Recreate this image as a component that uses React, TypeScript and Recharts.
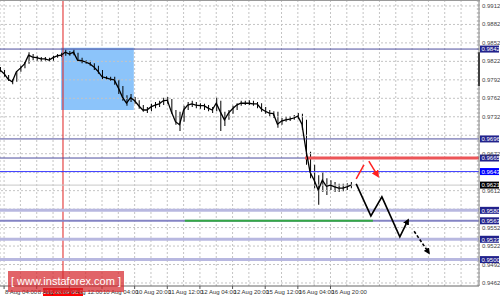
import {
  ComposedChart,
  Bar,
  Line,
  XAxis,
  YAxis,
  CartesianGrid,
  ReferenceLine,
  ReferenceArea,
} from "recharts";

// 2h bars
const closes = [
  0.9808, 0.9802, 0.9793, 0.9789, 0.9805, 0.9811, 0.9818, 0.9832, 0.9829, 0.9828,
  0.9826, 0.9826, 0.9824, 0.9828, 0.9831, 0.9832, 0.9837, 0.9834, 0.9837, 0.9824,
  0.9823, 0.9821, 0.9818, 0.9813, 0.9806, 0.9797, 0.9795, 0.9793, 0.9792, 0.9779,
  0.9764, 0.9754, 0.9763, 0.9758, 0.975, 0.9743, 0.9743, 0.9748, 0.9751, 0.9753,
  0.9758, 0.9759, 0.974, 0.9724, 0.9719, 0.9743, 0.9751, 0.9753, 0.9751, 0.975,
  0.975, 0.9746, 0.9743, 0.9754, 0.974, 0.9727, 0.9738, 0.9745, 0.9751, 0.9754,
  0.9754, 0.9754, 0.9753, 0.9753, 0.9745, 0.9741, 0.9738, 0.9737, 0.972, 0.9725,
  0.9727, 0.9728, 0.973, 0.9733, 0.972, 0.9678, 0.9642, 0.9629, 0.9613, 0.9629,
  0.9619, 0.9621, 0.9618, 0.9616, 0.9616, 0.9618, 0.9621,
];
const highs = [
  0.9813, 0.9808, 0.98, 0.9793, 0.9806, 0.9815, 0.9821, 0.9837, 0.9834, 0.9831,
  0.9829, 0.9829, 0.9828, 0.9831, 0.9834, 0.9836, 0.9841, 0.9839, 0.9841, 0.9836,
  0.9828, 0.9824, 0.9823, 0.9819, 0.9815, 0.9808, 0.9798, 0.9797, 0.9797, 0.9792,
  0.9782, 0.9767, 0.9769, 0.9764, 0.9759, 0.9751, 0.9748, 0.9753, 0.9756, 0.9758,
  0.9763, 0.9764, 0.9761, 0.9743, 0.974, 0.975, 0.9756, 0.9758, 0.9756, 0.9754,
  0.9753, 0.9751, 0.9748, 0.9763, 0.9758, 0.974, 0.9743, 0.975, 0.9754, 0.9758,
  0.9758, 0.9759, 0.9758, 0.9756, 0.9754, 0.9748, 0.9743, 0.9741, 0.974, 0.973,
  0.9732, 0.9733, 0.9735, 0.9738, 0.9737, 0.9727, 0.9675, 0.9654, 0.9637, 0.9642,
  0.9632, 0.9629, 0.9626, 0.9623, 0.9623, 0.9624, 0.9626,
];
const lows = [
  0.9805, 0.9797, 0.979, 0.9785, 0.9789, 0.9805, 0.9811, 0.9818, 0.9824, 0.9823,
  0.9821, 0.9823, 0.9821, 0.9823, 0.9828, 0.9829, 0.9831, 0.9831, 0.9832, 0.9821,
  0.9819, 0.9818, 0.9815, 0.9808, 0.9802, 0.9793, 0.9792, 0.979, 0.9784, 0.9769,
  0.9758, 0.975, 0.9756, 0.9753, 0.9745, 0.974, 0.9738, 0.9741, 0.9746, 0.9748,
  0.9751, 0.9753, 0.9737, 0.9719, 0.9709, 0.9724, 0.9743, 0.9748, 0.9746, 0.9745,
  0.9743, 0.9741, 0.9738, 0.9741, 0.9709, 0.9717, 0.9727, 0.9737, 0.9743, 0.975,
  0.9751, 0.9751, 0.975, 0.9746, 0.974, 0.9737, 0.9733, 0.973, 0.9714, 0.9719,
  0.9724, 0.9725, 0.9727, 0.9728, 0.9711, 0.9654, 0.9632, 0.9616, 0.9589, 0.961,
  0.9605, 0.9613, 0.961, 0.961, 0.9611, 0.9613, 0.9616,
];

const labelBars = [1, 9, 17, 25, 33, 41, 49, 57, 65, 73, 81];
const timeLabels = [
  "8 Aug 04:00", "8 Aug 20:00", "9 Aug 12:00", "10 Aug 04:00", "10 Aug 20:00",
  "11 Aug 12:00", "12 Aug 04:00", "12 Aug 20:00", "15 Aug 12:00", "16 Aug 04:00",
  "16 Aug 20:00",
];
const gridBars = Array.from({ length: 30 }, (_, k) => 1 + 4 * k);

const gridPrices = [
  0.9912, 0.9882, 0.9852, 0.9822, 0.9792, 0.9762, 0.9732, 0.9702, 0.9672,
  0.9642, 0.9612, 0.9582, 0.9552, 0.9522, 0.9492, 0.9462,
];
const coveredPrices = [0.9702, 0.9642, 0.9582];

const levels = [0.9842, 0.9696, 0.9665, 0.9643, 0.958, 0.9563, 0.9533, 0.95];
const levelColors = ["#4e4e9e", "#4e4e9e", "#4e4e9e", "#3b3bff", "#b8b8e0", "#8484c4", "#b8b8e0", "#b8b8e0"];
const levelWidths = [1, 1, 1, 1, 3, 2, 3, 3];
const levelTags = ["#22228c", "#22228c", "#22228c", "#0000ff", "#22228c", "#22228c", "#22228c", "#22228c"];
const lastPrice = 0.9621;
const crossBar = 15.44;
const crossTime = "2016.08.09 08:00";

// forecast drawings
const zigzagBars = [87.3, 90.9, 93.6, 98.0, 100.0];
const zigzagPrices = [0.9623, 0.9571, 0.9602, 0.9537, 0.9564];
const dashBars = [101.5, 105.1];
const dashPrices = [0.9546, 0.9511];
const redUpBars = [87.3, 89.2];
const redUpPrices = [0.9631, 0.9654];
const redDownBars = [90.4, 92.6];
const redDownPrices = [0.966, 0.9636];

const rows = closes.map((c, i) => ({ i, close: c, range: [lows[i], highs[i]] }));
const toPts = (xs: number[], ps: number[]) => xs.map((i, k) => ({ i, p: ps[k] }));

const FONT = "'Liberation Sans', Arial, sans-serif";

function LevelTag(props: any) {
  const { viewBox, text, bg } = props;
  if (!viewBox) return null;
  const x = viewBox.x + viewBox.width + 1;
  const y = viewBox.y;
  return (
    <g>
      <rect x={x} y={y - 3.5} width={19} height={7} fill={bg} />
      <text x={x + 1.5} y={y + 2.3} fontSize={6} fill="#fff" fontFamily={FONT}>
        {text}
      </text>
    </g>
  );
}

function TimeTag(props: any) {
  const { viewBox, text } = props;
  if (!viewBox) return null;
  const x = viewBox.x;
  const y = viewBox.y + viewBox.height;
  return (
    <g>
      <rect x={x - 20} y={y + 2} width={40} height={8} fill="#ff0000" />
      <text x={x} y={y + 8.2} fontSize={6} fill="#fff" textAnchor="middle" fontFamily={FONT}>
        {text}
      </text>
    </g>
  );
}

function TimeTick(props: any) {
  const { x, y, payload } = props;
  const k = labelBars.indexOf(payload.value);
  if (k < 0) return <g />;
  return (
    <g>
      <line x1={x} y1={y} x2={x} y2={y + 3} stroke="#555" />
      <text x={x + 1} y={y + 8} fontSize={6} fill="#333" fontFamily={FONT}>
        {timeLabels[k]}
      </text>
    </g>
  );
}

function PriceTick(props: any) {
  const { x, y, payload } = props;
  if (coveredPrices.includes(payload.value)) return <g />;
  return (
    <text x={x} y={y + 2} fontSize={6} fill="#444" fontFamily={FONT}>
      {payload.value.toFixed(4)}
    </text>
  );
}

export default function App() {
  return (
    <div style={{ position: "fixed", left: 0, top: 0, width: 500, height: 298, background: "#fff" }}>
      <ComposedChart
        width={500}
        height={298}
        data={rows}
        margin={{ top: 0, right: 0, bottom: 0, left: 0 }}
      >
        <defs>
          <marker id="arrBlack" viewBox="0 0 10 10" refX="7" refY="5" markerWidth="4" markerHeight="4" orient="auto">
            <path d="M0,0 L10,5 L0,10 z" fill="#000" />
          </marker>
          <marker id="arrRed" viewBox="0 0 10 10" refX="7" refY="5" markerWidth="5" markerHeight="5" orient="auto">
            <path d="M0,0 L10,5 L0,10 z" fill="#ff2020" />
          </marker>
        </defs>
        <CartesianGrid horizontal={false} stroke="#c4c4c4" strokeDasharray="2 2" />
        <XAxis
          dataKey="i"
          type="number"
          domain={[0, 117.4]}
          allowDataOverflow
          ticks={gridBars}
          interval={0}
          height={12}
          tickSize={0}
          tickMargin={0}
          tick={<TimeTick />}
          tickLine={false}
          axisLine={{ stroke: "#666" }}
        />
        <YAxis
          orientation="right"
          type="number"
          domain={[0.94571, 0.99217]}
          allowDataOverflow
          ticks={gridPrices}
          interval={0}
          width={21}
          tickSize={0}
          tickMargin={3}
          tick={<PriceTick />}
          tickLine={false}
          axisLine={{ stroke: "#808080" }}
        />
        {gridPrices.map((p) => (
          <ReferenceLine key={"g" + p} y={p} stroke="#c4c4c4" strokeDasharray="2 2" />
        ))}
        <ReferenceArea x1={14.95} x2={32.8} y1={0.9743} y2={0.9844} fill="#8cc4fa" fillOpacity={1} stroke="none" />
        <ReferenceLine x={crossBar} stroke="#e02020" label={<TimeTag text={crossTime} />} />
        <ReferenceLine y={lastPrice} stroke="#c8c8c8" label={<LevelTag text={lastPrice.toFixed(4)} bg="#000" />} />
        {levels.map((p, k) => (
          <ReferenceLine
            key={"l" + p}
            y={p}
            stroke={levelColors[k]}
            strokeWidth={levelWidths[k]}
            label={<LevelTag text={p.toFixed(4)} bg={levelTags[k]} />}
          />
        ))}
        <ReferenceLine
          segment={[{ x: 74.75, y: 0.9665 }, { x: 117.4, y: 0.9665 }]}
          stroke="#ec5558"
          strokeWidth={3}
        />
        <ReferenceLine
          segment={[{ x: 45.3, y: 0.9563 }, { x: 91.4, y: 0.9563 }]}
          stroke="#35a844"
          strokeWidth={2}
        />
        <ReferenceLine
          segment={[{ x: 117.4, y: 0.9837 }, { x: 117.4, y: 0.9782 }]}
          stroke="#000"
          strokeWidth={2}
          ifOverflow="visible"
        />
        <Bar dataKey="range" barSize={1} fill="#000" isAnimationActive={false} />
        <Line dataKey="close" type="linear" stroke="#000" strokeWidth={1.3} dot={false} activeDot={false} isAnimationActive={false} />
        <Line
          data={toPts(zigzagBars, zigzagPrices)}
          dataKey="p"
          type="linear"
          stroke="#000"
          strokeWidth={1.6}
          dot={false}
          activeDot={false}
          markerEnd="url(#arrBlack)"
          isAnimationActive={false}
        />
        <Line
          data={toPts(dashBars, dashPrices)}
          dataKey="p"
          type="linear"
          stroke="#000"
          strokeWidth={1.6}
          strokeDasharray="3 2"
          dot={false}
          activeDot={false}
          markerEnd="url(#arrBlack)"
          isAnimationActive={false}
        />
        <Line
          data={toPts(redUpBars, redUpPrices)}
          dataKey="p"
          type="linear"
          stroke="#ff2020"
          strokeWidth={1.5}
          dot={false}
          activeDot={false}
          isAnimationActive={false}
        />
        <Line
          data={toPts(redDownBars, redDownPrices)}
          dataKey="p"
          type="linear"
          stroke="#ff2020"
          strokeWidth={1.5}
          dot={false}
          activeDot={false}
          markerEnd="url(#arrRed)"
          isAnimationActive={false}
        />
      </ComposedChart>
      <div style={{ position: "absolute", left: 0, top: 0, width: 480, height: 1, background: "#9a9a9a" }} />
      <div
        style={{
          position: "absolute",
          left: 8,
          top: 271,
          width: 116,
          height: 21,
          background: "rgba(214, 40, 46, 0.72)",
          color: "#fff",
          fontFamily: FONT,
          fontSize: 11,
          lineHeight: "21px",
          textAlign: "center",
          whiteSpace: "pre",
        }}
      >
        {"[ www.instaforex.com ]"}
      </div>
    </div>
  );
}
